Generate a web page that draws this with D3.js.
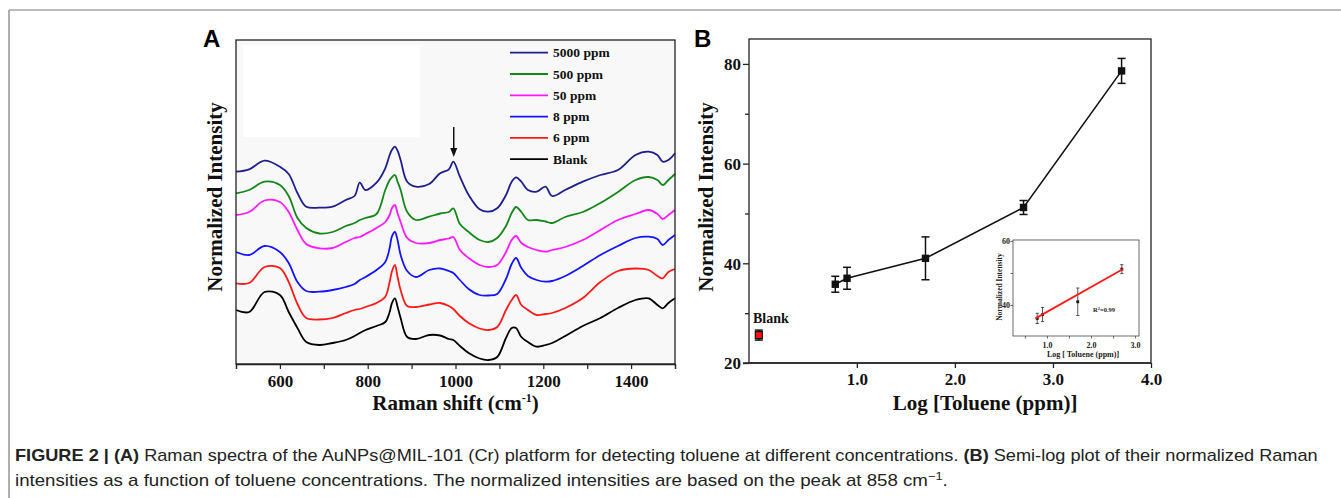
<!DOCTYPE html>
<html>
<head>
<meta charset="utf-8">
<script src="https://cdn.jsdelivr.net/npm/d3@7"></script>
<style>
  html, body { margin: 0; padding: 0; background: #ffffff; }
  svg { display: block; }
  .serif { font-family: "Liberation Serif", "Times New Roman", serif; font-weight: bold; }
  .cap { font-family: "Liberation Sans", Arial, sans-serif; }
</style>
</head>
<body>
<svg id="fig" width="1341" height="498"></svg>
<script>
// ---------------- Panel A data (Raman spectra, offset traces) ----------------
const wavenumbers = [500,530,565,600,620,640,660,690,720,750,770,782,795,820,840,850,855,862,868,875,890,910,940,965,985,995,1010,1030,1055,1075,1095,1115,1128,1138,1150,1165,1185,1205,1220,1250,1290,1330,1370,1410,1440,1460,1472,1485,1500];
const ppm5000 = [192.3,194.7,203.3,197.3,190,171,157.3,156.3,157.3,164,168,181.3,174,181.3,195.7,209,214,217.3,213.3,204,182.3,177.3,180,190.7,194.7,202.3,187.3,169,154.7,152.3,155.7,169,182.3,186.7,182.3,174,172.3,177.3,168,174,182.3,189,194,209,212.3,209,202.3,204,210.7];
const ppm500  = [170.7,174,182.3,179,168,146,136,130.5,132,138,141,144,146,150,174,184,186.7,189,182.3,174,152,144,147.3,150.5,152,155.7,140,132,124,122,126,138,151,157,152,144,144,142.5,141,147,152,161,172,184,187,184,179,184,190];
const ppm50   = [149,152,163.5,162,152,134,120,115.7,116,122,126,127,130,136,142,149,155.7,159,150.7,142,126,121,121,124,125.5,127,114,106,99,97,99,112,124,128,121,117,114,112.3,114,117,124,134,144,150,154,150,145,149,154];
const ppm8    = [112,109,118,112,101,82,73,72.3,74,77,80,84,87,94,102,116,127.3,132,124,109,93,87,94,95.5,93,91,84,75,69,68.5,70,85,100,106,96,88,84,82.3,83,88,98,109,118,126,127.3,125,119,124,129];
const ppm6    = [80.7,81,97,96,82,60,46,44.5,46,51,54,55,57,61,67.3,82,92.3,99,87.3,74,58,57,59.5,61,58,55,48,41,35.5,34,37,54,64,69,59,54,49,50,51,56,66,82,93,95.5,94,88,85.7,92,95];
const blank   = [54,52,72,69,52,36,22,19,21,24,28,31,34,38,42,52,60.7,65.7,57.3,46,27,25,29,28.5,25,24,18,11,5.5,4,7,26,36,36,27,22,17.3,19,21,28,38,46,56,64,65.7,59,55.7,61,65.7];
const seriesNames = ["5000 ppm","500 ppm","50 ppm","8 ppm","6 ppm","Blank"];
const seriesColors = ["#1e1e8c","#14871a","#ff19ff","#1414ff","#ff1a1a","#000000"];
const seriesValues = [ppm5000, ppm500, ppm50, ppm8, ppm6, blank];
const ramanTicks = [600,800,1000,1200,1400];
const arrowWavenumber = 996;

// ---------------- Panel B data ----------------
const logConc   = [0.78, 0.9, 1.7, 2.7, 3.7];
const intensity = [35.8, 37.0, 41.0, 51.2, 78.6];
const intErr    = [1.6, 2.2, 4.3, 1.4, 2.5];
const blankX = [0], blankY = [25.6], blankErr = [1.0];
const bYTicks = [20,40,60,80];
const bXTicks = [1.0,2.0,3.0,4.0];
// inset (linear fit range)
const insetX = [0.78, 0.9, 1.7, 2.7];
const insetY = [35.8, 37.0, 41.0, 51.2];
const insetErr = [1.6, 2.2, 4.3, 1.4];
const fitX = [0.74, 2.73], fitY = [35.8, 51.25];
const insetYTicks = [40, 60];
const insetXTicks = [1.0, 2.0, 3.0];

const svg = d3.select("#fig");

// outer frame
svg.append("line").attr("x1",9).attr("y1",10).attr("x2",1341).attr("y2",10).attr("stroke","#7a7a7a").attr("stroke-width",1.2);
svg.append("line").attr("x1",9).attr("y1",10).attr("x2",9).attr("y2",498).attr("stroke","#7a7a7a").attr("stroke-width",1.2);

// ================= Panel A =================
const A = {l:236, r:675, t:40, b:364};
const xA = d3.scaleLinear().domain([500,1500]).range([A.l, A.r]);
const yA = d3.scaleLinear().domain([0,324]).range([A.b, A.t]);

svg.append("rect").attr("x",A.l).attr("y",A.t).attr("width",A.r-A.l).attr("height",A.b-A.t).attr("fill","#f8f8f8");
svg.append("rect").attr("x",243).attr("y",45).attr("width",177).attr("height",92).attr("fill","#ffffff");

const lineA = d3.line().x(d=>xA(d[0])).y(d=>yA(d[1])).curve(d3.curveCatmullRom.alpha(0.5));
const gA = svg.append("g");
seriesValues.forEach((vals,i)=>{
  gA.append("path").attr("d", lineA(wavenumbers.map((w,j)=>[w, vals[j]])))
    .attr("fill","none").attr("stroke",seriesColors[i]).attr("stroke-width",1.8).attr("stroke-linejoin","round");
});

// frame
svg.append("rect").attr("x",A.l).attr("y",A.t).attr("width",A.r-A.l).attr("height",A.b-A.t)
  .attr("fill","none").attr("stroke","#222").attr("stroke-width",1.3);

// x axis A
const axA = svg.append("g").attr("transform",`translate(0,${A.b})`)
  .call(d3.axisBottom(xA).tickValues(d3.range(500,1501,100)).tickSize(5).tickFormat(d => ramanTicks.includes(d) ? d : ""));
axA.select(".domain").attr("stroke","#222").attr("stroke-width",1.3);
axA.selectAll(".tick line").attr("stroke","#222").attr("stroke-width",1.2);
axA.selectAll(".tick text").attr("class","serif").attr("font-size",17).attr("fill","#111").attr("dy",0).attr("y",23);

svg.append("text").attr("class","serif").attr("x",(A.l+A.r)/2).attr("y",410).attr("text-anchor","middle")
  .attr("font-size",21).attr("fill","#111")
  .call(t=>{ t.append("tspan").text("Raman shift (cm"); t.append("tspan").attr("dy",-8).attr("font-size",12).text("-1"); t.append("tspan").attr("dy",8).text(")"); });
svg.append("text").attr("class","serif").attr("transform","translate(222,197) rotate(-90)").attr("text-anchor","middle")
  .attr("font-size",21).attr("fill","#111").text("Normalized Intensity");
svg.append("text").attr("x",203).attr("y",47).attr("font-family","Liberation Sans, Arial, sans-serif").attr("font-weight","bold")
  .attr("font-size",24).attr("fill","#000").text("A");

// legend A
const legY0 = 52.7, legDY = 21.3;
seriesNames.forEach((n,i)=>{
  const y = legY0 + i*legDY;
  svg.append("line").attr("x1",510).attr("x2",548).attr("y1",y).attr("y2",y).attr("stroke",seriesColors[i]).attr("stroke-width",1.8);
  svg.append("text").attr("class","serif").attr("x",553).attr("y",y+4.5).attr("font-size",13.5).attr("fill","#111").text(n);
});

// arrow
const ax = xA(arrowWavenumber);
svg.append("line").attr("x1",ax).attr("x2",ax).attr("y1",127).attr("y2",150).attr("stroke","#111").attr("stroke-width",1.5);
svg.append("path").attr("d",`M${ax-3.5},148 L${ax+3.5},148 L${ax},157 Z`).attr("fill","#111");

// ================= Panel B =================
const B = {l:749, r:1151, t:39, b:363};
const xB = d3.scaleLinear().domain([-0.1,4.0]).range([B.l,B.r]);
const yB = d3.scaleLinear().domain([20,85]).range([B.b,B.t]);

svg.append("rect").attr("x",B.l).attr("y",B.t).attr("width",B.r-B.l).attr("height",B.b-B.t)
  .attr("fill","none").attr("stroke","#222").attr("stroke-width",1.3);

const ayB = svg.append("g").attr("transform",`translate(${B.l},0)`)
  .call(d3.axisLeft(yB).tickValues([20,30,40,50,60,70,80]).tickSize(6).tickFormat(d => bYTicks.includes(d) ? d : ""));
ayB.select(".domain").remove();
ayB.selectAll(".tick line").attr("stroke","#222").attr("stroke-width",1.3).attr("x2", d => bYTicks.includes(d) ? -6 : -4);
ayB.selectAll(".tick text").attr("class","serif").attr("font-size",17).attr("fill","#111").attr("x",-8).attr("dy","0.35em");

const axB = svg.append("g").attr("transform",`translate(0,${B.b})`)
  .call(d3.axisBottom(xB).tickValues(bXTicks).tickSize(5).tickFormat(d3.format(".1f")));
axB.select(".domain").remove();
axB.selectAll(".tick line").attr("stroke","#222").attr("stroke-width",1.3);
axB.selectAll(".tick text").attr("class","serif").attr("font-size",17).attr("fill","#111").attr("dy",0).attr("y",22);
svg.append("line").attr("x1",743).attr("x2",B.r).attr("y1",B.b).attr("y2",B.b).attr("stroke","#222").attr("stroke-width",1.5);

svg.append("text").attr("class","serif").attr("x",(B.l+B.r)/2+35).attr("y",410).attr("text-anchor","middle")
  .attr("font-size",21).attr("fill","#111").text("Log [Toluene (ppm)]");
svg.append("text").attr("class","serif").attr("transform","translate(713,197) rotate(-90)").attr("text-anchor","middle")
  .attr("font-size",21).attr("fill","#111").text("Normalized Intensity");
svg.append("text").attr("x",694).attr("y",47).attr("font-family","Liberation Sans, Arial, sans-serif").attr("font-weight","bold")
  .attr("font-size",24).attr("fill","#000").text("B");

// line
svg.append("path").attr("d", d3.line().x(d=>xB(d[0])).y(d=>yB(d[1]))(logConc.map((x,i)=>[x,intensity[i]])))
  .attr("fill","none").attr("stroke","#111").attr("stroke-width",1.6);

function errBars(g, xs, ys, es, xs_, ys_, cap, sw){
  xs.forEach((x,i)=>{
    const px = xs_(x);
    g.append("line").attr("x1",px).attr("x2",px).attr("y1",ys_(ys[i]-es[i])).attr("y2",ys_(ys[i]+es[i])).attr("stroke","#111").attr("stroke-width",sw);
    [ys[i]-es[i], ys[i]+es[i]].forEach(v=>{
      g.append("line").attr("x1",px-cap).attr("x2",px+cap).attr("y1",ys_(v)).attr("y2",ys_(v)).attr("stroke","#111").attr("stroke-width",sw);
    });
  });
}
const gB = svg.append("g");
errBars(gB, logConc, intensity, intErr, xB, yB, 4, 1.5);
errBars(gB, blankX, blankY, blankErr, xB, yB, 4, 1.5);
logConc.forEach((x,i)=>{
  gB.append("rect").attr("x",xB(x)-3.7).attr("y",yB(intensity[i])-3.7).attr("width",7.4).attr("height",7.4).attr("fill","#111");
});
blankX.forEach((x,i)=>{
  gB.append("rect").attr("x",xB(x)-3.5).attr("y",yB(blankY[i])-3.5).attr("width",7).attr("height",7).attr("fill","#ff1010").attr("stroke","#111").attr("stroke-width",1.2);
});
svg.append("text").attr("class","serif").attr("x",753).attr("y",323).attr("font-size",14).attr("fill","#111").text("Blank");

// ---------- inset ----------
const I = {l:1013, r:1139, t:240, b:336};
const xI = d3.scaleLinear().domain([0.23,3.09]).range([I.l,I.r]);
const yI = d3.scaleLinear().domain([30.3,60.3]).range([I.b,I.t]);
svg.append("rect").attr("x",I.l).attr("y",I.t).attr("width",I.r-I.l).attr("height",I.b-I.t)
  .attr("fill","#ffffff").attr("stroke","#444").attr("stroke-width",0.8);
const ayI = svg.append("g").attr("transform",`translate(${I.l},0)`)
  .call(d3.axisLeft(yI).tickValues([40,50,60]).tickSize(2.5).tickFormat(d => insetYTicks.includes(d) ? d : ""));
ayI.select(".domain").remove();
ayI.selectAll(".tick line").attr("stroke","#444").attr("stroke-width",0.8);
ayI.selectAll(".tick text").attr("class","serif").attr("font-size",8).attr("fill","#222").attr("x",-3);
const axI = svg.append("g").attr("transform",`translate(0,${I.b})`)
  .call(d3.axisBottom(xI).tickValues([0.5,1.0,1.5,2.0,2.5,3.0]).tickSize(2.5).tickFormat(d => insetXTicks.includes(d) ? d3.format(".1f")(d) : ""));
axI.select(".domain").remove();
axI.selectAll(".tick line").attr("stroke","#444").attr("stroke-width",0.8);
axI.selectAll(".tick text").attr("class","serif").attr("font-size",8).attr("fill","#222").attr("dy",0).attr("y",12);
svg.append("text").attr("class","serif").attr("x",1083).attr("y",357).attr("text-anchor","middle").attr("font-size",8).attr("fill","#222").text("Log [ Toluene (ppm)]");
svg.append("text").attr("class","serif").attr("transform","translate(1002,287) rotate(-90)").attr("text-anchor","middle").attr("font-size",7.5).attr("fill","#222").text("Normalized Intensity");
const gI = svg.append("g");
errBars(gI, insetX, insetY, insetErr, xI, yI, 1.6, 0.7);
insetX.forEach((x,i)=>{
  gI.append("rect").attr("x",xI(x)-1.4).attr("y",yI(insetY[i])-1.4).attr("width",2.8).attr("height",2.8).attr("fill","#111");
});
svg.append("path").attr("d", d3.line().x(d=>xI(d[0])).y(d=>yI(d[1]))(fitX.map((x,i)=>[x,fitY[i]])))
  .attr("stroke","#ff1a1a").attr("stroke-width",1.8).attr("fill","none");
svg.append("text").attr("class","serif").attr("x",1093).attr("y",312).attr("font-size",6.5).attr("fill","#222")
  .call(t=>{ t.append("tspan").text("R"); t.append("tspan").attr("dy",-2.5).attr("font-size",4.5).text("2"); t.append("tspan").attr("dy",2.5).text("=0.99"); });

// ================= Caption =================
function fitCaption(sel, x, y, target){
  const w = sel.node().getComputedTextLength();
  sel.attr("transform", `translate(${x},${y}) scale(${target / w},1)`);
}
const cap1 = svg.append("text").attr("class","cap").attr("x",0).attr("y",0).attr("font-size",16).attr("fill","#222");
cap1.append("tspan").attr("font-weight","bold").text("FIGURE 2 | (A)");
cap1.append("tspan").text(" Raman spectra of the AuNPs@MIL-101 (Cr) platform for detecting toluene at different concentrations. ");
cap1.append("tspan").attr("font-weight","bold").text("(B)");
cap1.append("tspan").text(" Semi-log plot of their normalized Raman");
fitCaption(cap1, 15, 461, 1303);
const cap2 = svg.append("text").attr("class","cap").attr("x",0).attr("y",0).attr("font-size",16).attr("fill","#222");
cap2.append("tspan").text("intensities as a function of toluene concentrations. The normalized intensities are based on the peak at 858 cm");
cap2.append("tspan").attr("dy",-6).attr("font-size",11).text("−1");
cap2.append("tspan").attr("dy",6).text(".");
fitCaption(cap2, 15, 486, 934);
</script>
</body>
</html>
